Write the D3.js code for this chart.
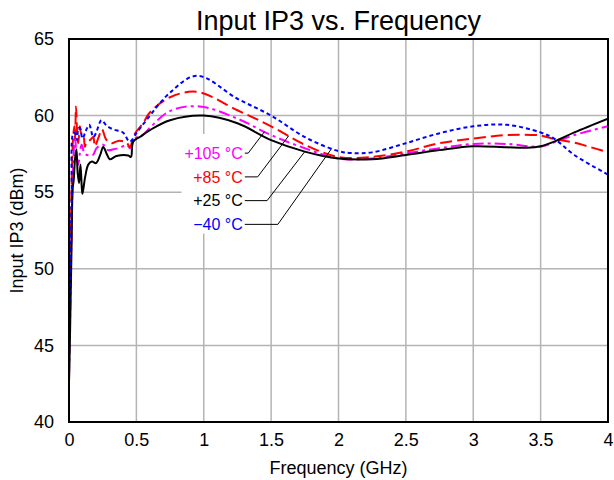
<!DOCTYPE html>
<html>
<head>
<meta charset="utf-8">
<script src="https://cdn.jsdelivr.net/npm/d3@7/dist/d3.min.js"></script>
<style>
  html, body { margin: 0; padding: 0; background: #fff; }
  svg { display: block; font-family: Arial, "Liberation Sans", sans-serif; }
</style>
</head>
<body>
<svg id="chart" width="614" height="480"></svg>
<script>
// ---------- data ----------
const xTicks = [0, 0.5, 1, 1.5, 2, 2.5, 3, 3.5, 4];
const xTickLabels = ["0", "0.5", "1", "1.5", "2", "2.5", "3", "3.5", "4"];
const yTicks = [40, 45, 50, 55, 60, 65];
const yTickLabels = ["40", "45", "50", "55", "60", "65"];

const seriesNames = ["+105 °C", "+85 °C", "+25 °C", "−40 °C"];
const seriesColors = ["#ff00ff", "#ff0000", "#000000", "#0000ff"];

// +105 °C
const freqP105 = [0,0.005,0.012,0.02,0.03,0.044,0.055,0.069,0.08,0.094,0.118,0.155,0.18,0.204,0.254,0.29,0.33,0.377,0.43,0.455,0.488,0.55,0.6,0.75,0.97,1.25,1.5,1.75,2.0,2.25,2.5,2.75,3.0,3.25,3.5,3.6,3.75,4.0];
const iip3P105 = [43.0,45,49,53,56.5,58.7,57.5,56.8,57.5,58.1,57.5,57.4,57.45,57.87,58.1,57.75,57.8,57.9,58.08,57.87,58.5,58.75,59.2,60.3,60.6,59.8,58.73,57.87,57.2,57.2,57.54,57.87,58.15,58.15,57.97,58.25,58.73,59.3];
// +85 °C
const freqP85 = [0,0.005,0.012,0.02,0.03,0.04,0.045,0.052,0.06,0.069,0.081,0.09,0.105,0.118,0.13,0.155,0.18,0.192,0.22,0.245,0.275,0.316,0.365,0.426,0.451,0.488,0.55,0.6,0.75,0.95,1.25,1.5,1.75,2.0,2.25,2.5,2.75,3.0,3.25,3.5,3.6,3.75,4.0];
const iip3P85 = [45.5,47,51,55.8,58.5,59.3,58.5,60.6,59.0,58.2,59.3,58.85,58.8,57.97,58.3,58.4,58.6,58.0,58.6,59.1,58.45,58.2,58.35,58.25,57.97,58.8,59.5,60.2,61.2,61.55,60.35,59.3,58.1,57.3,57.3,57.65,58.2,58.5,58.73,58.7,58.47,58.23,57.6];
// +25 °C
const freqP25 = [0,0.004,0.012,0.02,0.027,0.035,0.045,0.055,0.065,0.075,0.085,0.095,0.1,0.12,0.143,0.17,0.2,0.23,0.254,0.28,0.303,0.352,0.44,0.46,0.476,0.525,0.6,0.75,1.0,1.25,1.5,1.75,2.0,2.25,2.5,2.75,3.0,3.25,3.4,3.5,3.6,3.75,4.0];
const iip3P25 = [42.6,44,48,52,55.2,55.8,57.2,57.8,56.2,55.6,56.8,55.3,54.9,56.0,56.8,57.0,56.9,57.4,57.95,57.5,57.15,57.36,57.4,57.3,58.3,58.6,59.05,59.7,60.0,59.5,58.4,57.65,57.2,57.15,57.43,57.75,58.0,57.93,57.9,58.0,58.3,58.9,59.8];
// −40 °C
const freqM40 = [0,0.005,0.012,0.02,0.032,0.045,0.06,0.069,0.081,0.1,0.125,0.15,0.18,0.2,0.241,0.278,0.328,0.4,0.451,0.5,0.574,0.75,0.95,1.25,1.5,1.75,2.0,2.1,2.25,2.5,2.75,3.0,3.25,3.5,3.6,3.75,4.0];
const iip3M40 = [47,49,52,54.5,58.85,58.85,58.4,59.17,59.2,58.5,59.0,59.4,58.6,58.85,59.7,59.35,59.1,58.9,58.3,58.85,59.7,61.5,62.6,61.1,60.0,58.6,57.68,57.55,57.6,58.2,58.85,59.3,59.4,58.9,58.5,57.43,56.15];

// label annotation (data units): text anchor, elbow, and target frequency on the curve
const labelFreq = 1.29;
const labelLevel = [57.55, 56.0, 54.45, 52.9];
const elbowFreq = [1.33, 1.40, 1.47, 1.55];
const targetFreq = [1.45, 1.63, 1.75, 1.95];

// ---------- layout ----------
const svg = d3.select("#chart");
const margin = { left: 69, right: 6, top: 39, bottom: 58 };
const W = 614, H = 480;
const x = d3.scaleLinear().domain([0, 4]).range([margin.left, W - margin.right]);
const y = d3.scaleLinear().domain([40, 65]).range([H - margin.bottom, margin.top]);

const series = [
  { f: freqP105, v: iip3P105, color: seriesColors[0], dash: "11,4,3,4", w: 2 },
  { f: freqP85,  v: iip3P85,  color: seriesColors[1], dash: "12,5",     w: 2 },
  { f: freqP25,  v: iip3P25,  color: seriesColors[2], dash: null,       w: 2 },
  { f: freqM40,  v: iip3M40,  color: seriesColors[3], dash: "4,3",      w: 2 }
];

// grid
const grid = svg.append("g");
grid.selectAll("line.gx").data(xTicks.slice(1, -1)).join("line")
  .attr("x1", d => x(d)).attr("x2", d => x(d))
  .attr("y1", y(40)).attr("y2", y(65))
  .attr("stroke", "#b4b4b4").attr("stroke-width", 1.5);
grid.selectAll("line.gy").data(yTicks.slice(1, -1)).join("line")
  .attr("x1", x(0)).attr("x2", x(4))
  .attr("y1", d => y(d)).attr("y2", d => y(d))
  .attr("stroke", "#b4b4b4").attr("stroke-width", 1.5);

// white box behind labels
svg.append("rect")
  .attr("x", x(0.835)).attr("y", y(58.8))
  .attr("width", x(1.49) - x(0.835)).attr("height", y(52.3) - y(58.8))
  .attr("fill", "#fff");

// axes (labels only)
const FONT = "Arial, 'Liberation Sans', sans-serif";
const xAxis = d3.axisBottom(x).tickValues(xTicks).tickFormat((d, i) => xTickLabels[i]).tickSize(0).tickPadding(11);
svg.append("g").attr("transform", `translate(0,${y(40)})`).call(xAxis)
  .call(g => g.select(".domain").remove())
  .selectAll("text").attr("font-size", 18).attr("fill", "#000").attr("font-family", FONT);
const yAxis = d3.axisLeft(y).tickValues(yTicks).tickFormat((d, i) => yTickLabels[i]).tickSize(0).tickPadding(15);
svg.append("g").attr("transform", `translate(${x(0)},0)`).call(yAxis)
  .call(g => g.select(".domain").remove())
  .selectAll("text").attr("font-size", 18).attr("fill", "#000").attr("font-family", FONT);

// lines
const clipId = "plotclip";
svg.append("clipPath").attr("id", clipId).append("rect")
  .attr("x", x(0)).attr("y", y(65)).attr("width", x(4) - x(0)).attr("height", y(40) - y(65));
const line = d3.line().x(d => x(d[0])).y(d => y(d[1])).curve(d3.curveCatmullRom.alpha(0.5));
const lg = svg.append("g").attr("clip-path", `url(#${clipId})`);
series.forEach(s => {
  const pts = s.f.map((f, i) => [f, s.v[i]]);
  lg.append("path").datum(pts).attr("d", line)
    .attr("fill", "none").attr("stroke", s.color).attr("stroke-width", s.w)
    .attr("stroke-dasharray", s.dash).attr("stroke-linejoin", "round");
});

// plot frame
svg.append("rect").attr("x", x(0)).attr("y", y(65))
  .attr("width", x(4) - x(0)).attr("height", y(40) - y(65))
  .attr("fill", "none").attr("stroke", "#000").attr("stroke-width", 2);

// leaders + labels
function interp(fArr, vArr, f) {
  const i = d3.bisectRight(fArr, f) - 1;
  const t = (f - fArr[i]) / (fArr[i + 1] - fArr[i]);
  return vArr[i] + t * (vArr[i + 1] - vArr[i]);
}
series.forEach((s, i) => {
  const tv = interp(s.f, s.v, targetFreq[i]);
  svg.append("polyline")
    .attr("points", [[x(labelFreq) + 2, y(labelLevel[i])], [x(elbowFreq[i]), y(labelLevel[i])], [x(targetFreq[i]), y(tv)]].map(p => p.join(",")).join(" "))
    .attr("fill", "none").attr("stroke", "#000").attr("stroke-width", 1);
  svg.append("text").attr("x", x(labelFreq)).attr("y", y(labelLevel[i]))
    .attr("dy", "0.36em").attr("text-anchor", "end")
    .attr("font-size", 16).attr("fill", s.color).text(seriesNames[i]);
});

// titles
svg.append("text").attr("x", (x(0) + x(4)) / 2).attr("y", 30)
  .attr("text-anchor", "middle").attr("font-size", 27).text("Input IP3 vs. Frequency");
svg.append("text").attr("x", (x(0) + x(4)) / 2).attr("y", 474)
  .attr("text-anchor", "middle").attr("font-size", 18).text("Frequency (GHz)");
svg.append("text").attr("transform", `translate(23,${(y(40) + y(65)) / 2}) rotate(-90)`)
  .attr("text-anchor", "middle").attr("font-size", 18).text("Input IP3 (dBm)");
</script>
</body>
</html>
